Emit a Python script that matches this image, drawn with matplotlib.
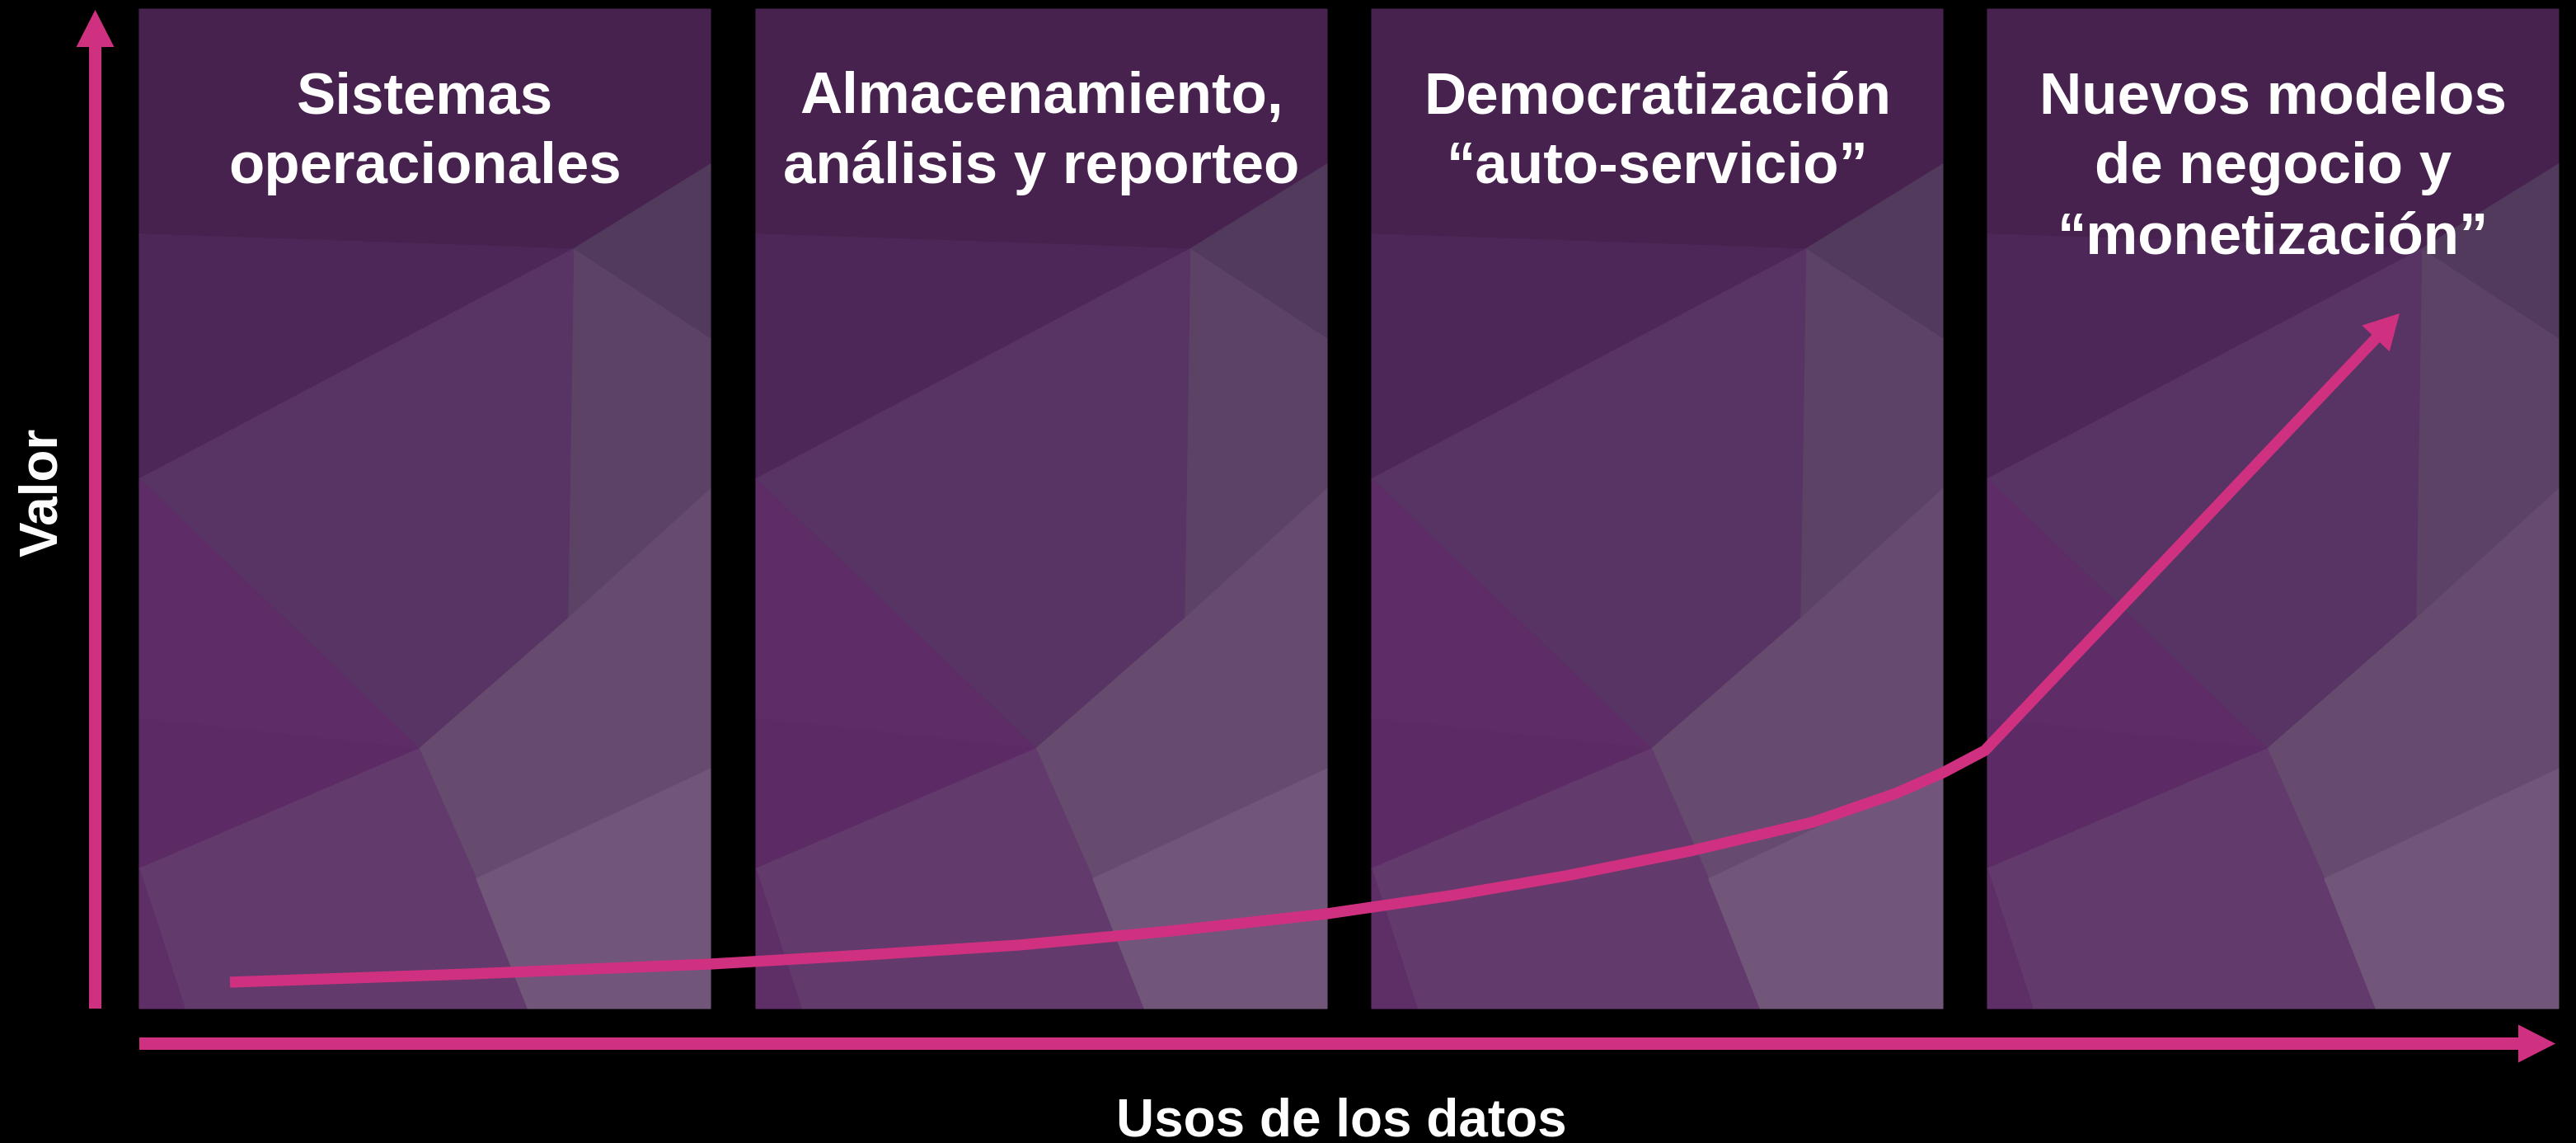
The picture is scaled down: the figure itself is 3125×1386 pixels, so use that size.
import numpy as np
import matplotlib
matplotlib.use("Agg")
import matplotlib.pyplot as plt
from matplotlib.patches import Polygon, FancyArrow

# ---------------- data ----------------
phase_titles = [
    ["Sistemas", "operacionales"],
    ["Almacenamiento,", "análisis y reporteo"],
    ["Democratización", "“auto-servicio”"],
    ["Nuevos modelos", "de negocio y", "“monetización”"],
]
x_label = "Usos de los datos"
y_label = "Valor"

# value curve (figure pixel coordinates, y downwards)
curve_x = [279, 570, 862, 1050, 1236, 1420, 1610, 1760, 1900, 2050, 2199, 2300, 2357, 2408]
curve_y = [1191, 1181, 1169, 1158, 1146, 1129, 1108, 1086, 1062, 1032, 997, 962, 937, 910]
arrow_tip = (2911, 380)

# ---------------- layout / style ----------------
W, H = 3125, 1386
PINK = "#cf3180"
panel_left = [169, 917, 1664, 2411]
panel_w = 693
panel_top, panel_bot = 11, 1223

# low-poly texture (relative coords within a panel) and colours
texture = [
    ([(0, 0), (1, 0), (1, .155), (.76, .24), (0, .225)], "#47224e"),
    ([(0, .225), (.76, .24), (0, .47)], "#4d2757"),
    ([(.76, .24), (1, .155), (1, .33)], "#513a5c"),
    ([(.76, .24), (1, .33), (1, .48), (.75, .61)], "#5c4265"),
    ([(0, .47), (.76, .24), (.75, .61), (.49, .74)], "#573463"),
    ([(0, .47), (.49, .74), (0, .71)], "#5e2c67"),
    ([(0, .71), (.49, .74), (0, .86)], "#5c2b65"),
    ([(.75, .61), (1, .48), (1, .76), (.59, .87), (.49, .74)], "#664b6f"),
    ([(0, .86), (.49, .74), (.59, .87), (.68, 1), (.08, 1)], "#633a6c"),
    ([(0, .86), (.08, 1), (0, 1)], "#5e2e67"),
    ([(.59, .87), (1, .76), (1, 1), (.68, 1)], "#72567a"),
]

fig = plt.figure(figsize=(W / 100, H / 100), dpi=100, facecolor="black")
ax = fig.add_axes([0, 0, 1, 1])
ax.set_xlim(0, W)
ax.set_ylim(H, 0)
ax.set_facecolor("black")
ax.axis("off")

# panels
ph = panel_bot - panel_top
for x0 in panel_left:
    ax.add_patch(Polygon([(x0, panel_top), (x0 + panel_w, panel_top),
                          (x0 + panel_w, panel_bot), (x0, panel_bot)],
                         closed=True, facecolor="#573463", edgecolor="none", zorder=1))
    for pts, col in texture:
        P = [(x0 + u * panel_w, panel_top + v * ph) for u, v in pts]
        ax.add_patch(Polygon(P, closed=True, facecolor=col, edgecolor=col,
                             linewidth=0.8, zorder=2))

# titles
font = ["Liberation Sans", "DejaVu Sans"]
for x0, lines in zip(panel_left, phase_titles):
    cx = x0 + panel_w / 2
    for i, line in enumerate(lines):
        ax.text(cx, 137 + i * 85, line, color="white", fontsize=51,
                fontweight="bold", family=font, ha="center", va="baseline", zorder=6)

# axes arrows
ax.add_patch(FancyArrow(115.5, panel_bot, 0, 12 - panel_bot, width=15,
                        head_width=46, head_length=45, length_includes_head=True,
                        color=PINK, linewidth=0, zorder=5))
ax.add_patch(FancyArrow(169, 1265.5, 3100 - 169, 0, width=15,
                        head_width=46, head_length=45, length_includes_head=True,
                        color=PINK, linewidth=0, zorder=5))

# value curve with arrow head
tx, ty = arrow_tip
dx, dy = tx - curve_x[-1], ty - curve_y[-1]
L = np.hypot(dx, dy)
hl = 42
bx, by = tx - dx / L * hl, ty - dy / L * hl
ax.plot(list(curve_x) + [bx + dx / L * 2], list(curve_y) + [by + dy / L * 2],
        color=PINK, linewidth=9.6, solid_capstyle="butt", solid_joinstyle="round", zorder=4)
ax.add_patch(FancyArrow(bx, by, tx - bx, ty - by, width=1, head_width=46,
                        head_length=hl, length_includes_head=True,
                        color=PINK, linewidth=0, zorder=4))

# axis labels
ax.text(1627, 1377, x_label, color="white", fontsize=46, fontweight="bold",
        family=font, ha="center", va="baseline", zorder=6)
ax.text(69, 597, y_label, color="white", fontsize=46, fontweight="bold",
        family=font, ha="center", va="baseline", rotation=90,
        rotation_mode="anchor", zorder=6)

fig.savefig("out.png", dpi=100, facecolor="black")
